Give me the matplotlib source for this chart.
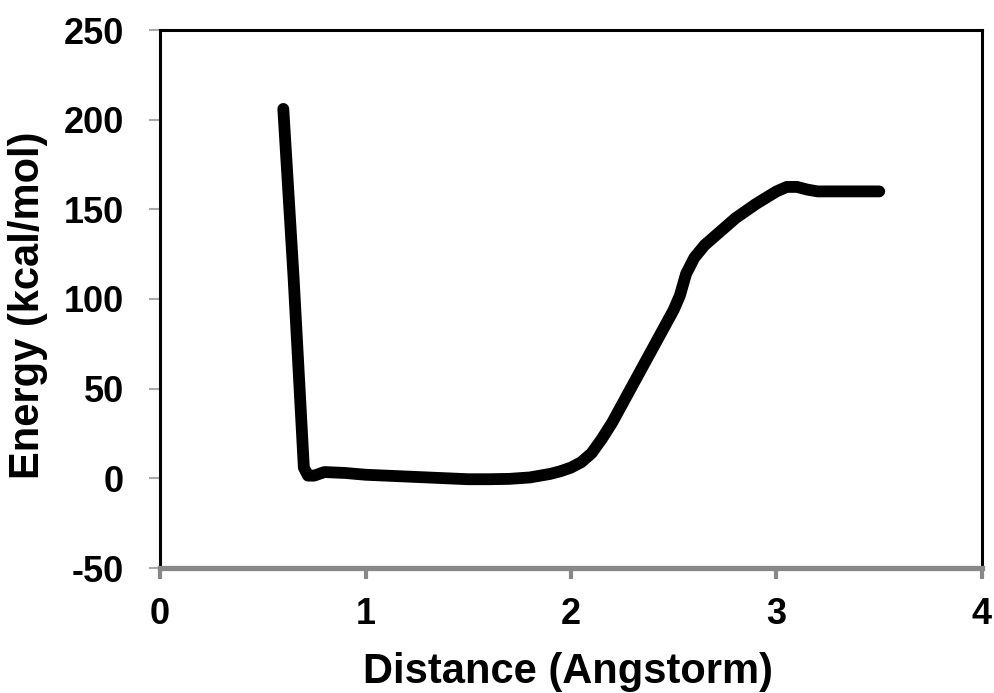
import matplotlib
matplotlib.use("Agg")
import matplotlib.pyplot as plt

# distance (Angstrom) vs energy (kcal/mol)
distance = [0.6, 0.65, 0.7, 0.72, 0.75, 0.8, 0.9, 1.0, 1.1, 1.2, 1.3, 1.4, 1.5,
            1.6, 1.7, 1.8, 1.9, 1.95, 2.0, 2.05, 2.1, 2.15, 2.2, 2.3, 2.4, 2.5,
            2.53, 2.56, 2.6, 2.65, 2.7, 2.8, 2.9, 3.0, 3.05, 3.1, 3.15, 3.2,
            3.3, 3.4, 3.5]
energy = [206, 112, 6, 1.5, 1.5, 3.5, 3, 2, 1.5, 1, 0.5, 0, -0.5,
          -0.5, -0.3, 0.5, 2.5, 4, 6, 9, 14, 22, 31, 52, 73, 94,
          102, 114, 123, 130, 135, 145, 153, 160, 162.5, 162.5, 161, 160,
          160, 160, 160]

xticks = [0, 1, 2, 3, 4]
yticks = [-50, 0, 50, 100, 150, 200, 250]

plt.rcParams['font.family'] = ['Liberation Sans', 'DejaVu Sans']
plt.rcParams['font.weight'] = 'bold'
plt.rcParams['axes.unicode_minus'] = False

fig = plt.figure(figsize=(9.94, 6.93), dpi=100)
ax = fig.add_axes([160 / 994, 1 - 568 / 693, 822 / 994, 538 / 693])

ax.plot(distance, energy, color='black', linewidth=8.5,
        solid_capstyle='round', solid_joinstyle='round')

ax.set_xlim(0, 4)
ax.set_ylim(-50, 250)
ax.set_xticks(xticks)
ax.set_yticks(yticks)
ax.tick_params(axis='x', direction='out', length=8, width=3, color='#888888',
               labelsize=26, pad=13)
ax.tick_params(axis='y', direction='out', length=8, width=1.5, color='#aaaaaa',
               labelsize=26, pad=18)
for lab in ax.get_xticklabels() + ax.get_yticklabels():
    lab.set_fontweight('bold')

for side in ['top', 'right', 'left']:
    ax.spines[side].set_color('black')
    ax.spines[side].set_linewidth(2.2)
ax.spines['bottom'].set_color('#888888')
ax.spines['bottom'].set_linewidth(3.8)

fig.text(568 / 994, 1 - 672 / 693, 'Distance (Angstorm)', ha='center', va='center',
         fontsize=30, fontweight='bold')
fig.text(28 / 994, 1 - 305 / 693, 'Energy (kcal/mol)', ha='center', va='center',
         rotation=90, fontsize=30, fontweight='bold')

fig.savefig('out.png', dpi=100)
